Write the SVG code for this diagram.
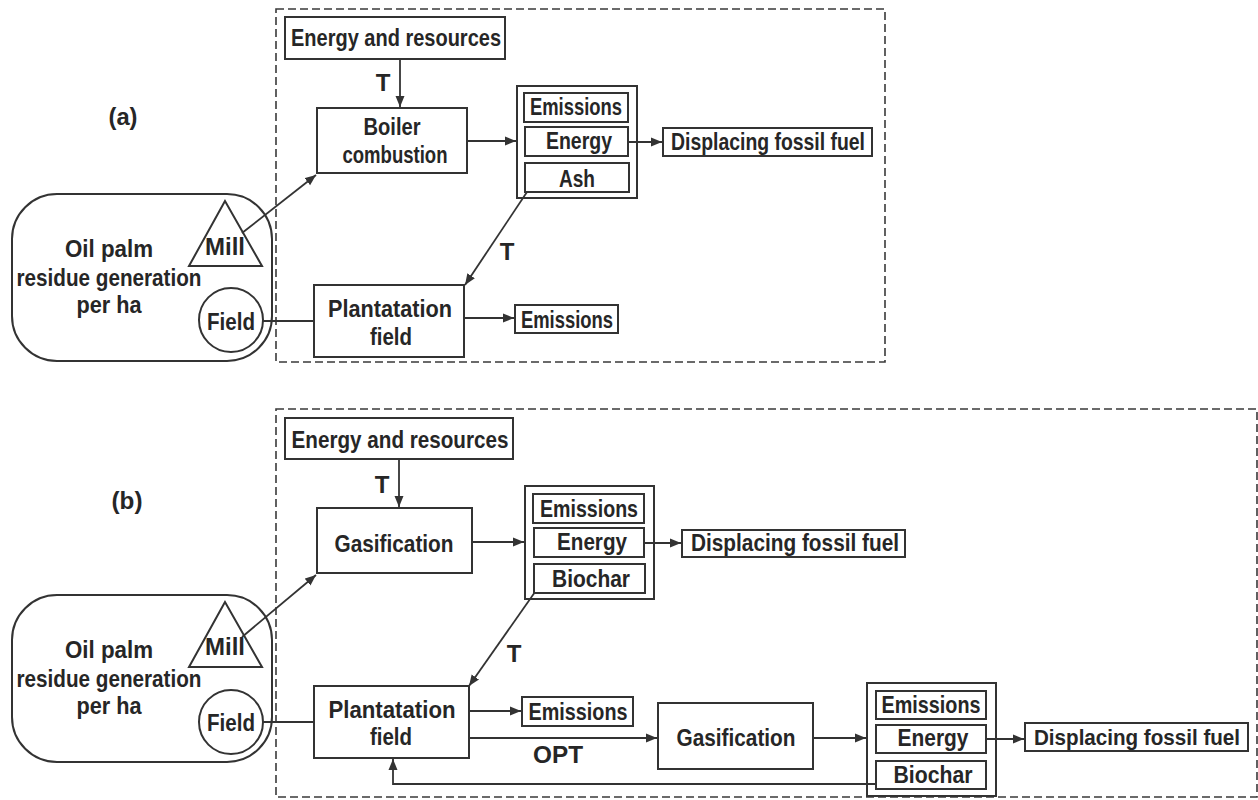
<svg xmlns="http://www.w3.org/2000/svg" width="1258" height="800" viewBox="0 0 1258 800">
<style>
.bg{fill:#ffffff}
.box{fill:none;stroke:#333;stroke-width:2}
.dash{fill:none;stroke:#3a3a3a;stroke-width:1.6;stroke-dasharray:8 4}
.ln{fill:none;stroke:#333;stroke-width:1.8}
.t{font-family:"Liberation Sans",Arial,sans-serif;font-weight:bold;font-size:24px;fill:#262626;text-anchor:middle}
.n{font-size:22px}
</style>
<defs>
<marker id="ah" markerUnits="userSpaceOnUse" markerWidth="12" markerHeight="10" refX="11" refY="5" orient="auto">
<path d="M0,0.5 L11,5 L0,9.5 Z" fill="#333"/>
</marker>
</defs>
<rect class="bg" x="0" y="0" width="1258" height="800"/>

<!-- Panel (a) -->
<g id="panel-a-boundary"><rect class="dash" x="276" y="9" width="609" height="353"/></g>
<text class="t" x="123" y="125" textLength="29" lengthAdjust="spacingAndGlyphs">(a)</text>

<g id="a-source">
<rect class="box" x="12" y="194" width="260" height="167" rx="45"/>
<text class="t" x="109" y="257" textLength="88" lengthAdjust="spacingAndGlyphs">Oil palm</text>
<text class="t" x="109" y="286" textLength="185" lengthAdjust="spacingAndGlyphs">residue generation</text>
<text class="t" x="109" y="313" textLength="65" lengthAdjust="spacingAndGlyphs">per ha</text>
</g>
<g id="a-mill">
<polygon class="box" points="225,201 189,266 262,266"/>
<text class="t" x="225" y="255" textLength="40" lengthAdjust="spacingAndGlyphs">Mill</text>
</g>
<g id="a-field">
<circle class="box" cx="231" cy="320" r="32"/>
<text class="t" x="231" y="330" textLength="48" lengthAdjust="spacingAndGlyphs">Field</text>
</g>
<g id="a-energy-resources">
<rect class="box" x="285" y="17" width="220" height="42"/>
<text class="t" x="396" y="46" textLength="210" lengthAdjust="spacingAndGlyphs">Energy and resources</text>
</g>
<g id="a-boiler">
<rect class="box" x="317" y="108" width="150" height="65"/>
<text class="t" x="392" y="135" textLength="57" lengthAdjust="spacingAndGlyphs">Boiler</text>
<text class="t" x="395" y="163" textLength="105" lengthAdjust="spacingAndGlyphs">combustion</text>
</g>
<g id="a-outputs">
<rect class="box" x="517" y="86" width="120" height="112"/>
<rect class="box" x="524" y="93" width="104" height="29"/>
<text class="t" x="576" y="115" textLength="92" lengthAdjust="spacingAndGlyphs">Emissions</text>
<rect class="box" x="525" y="127" width="103" height="29"/>
<text class="t" x="579" y="149" textLength="66" lengthAdjust="spacingAndGlyphs">Energy</text>
<rect class="box" x="525" y="163" width="104" height="29"/>
<text class="t" x="577" y="187" textLength="36" lengthAdjust="spacingAndGlyphs">Ash</text>
</g>
<g id="a-displacing">
<rect class="box" x="663" y="128" width="209" height="28"/>
<text class="t" x="768" y="150" textLength="194" lengthAdjust="spacingAndGlyphs">Displacing fossil fuel</text>
</g>
<g id="a-plantation">
<rect class="box" x="314" y="285" width="150" height="72"/>
<text class="t" x="390" y="317" textLength="124" lengthAdjust="spacingAndGlyphs">Plantatation</text>
<text class="t" x="391" y="345" textLength="42" lengthAdjust="spacingAndGlyphs">field</text>
</g>
<g id="a-emissions2">
<rect class="box" x="515" y="305" width="103" height="28"/>
<text class="t" x="567" y="328" textLength="92" lengthAdjust="spacingAndGlyphs">Emissions</text>
</g>

<g id="a-connectors">
<line class="ln" x1="400" y1="59" x2="400" y2="107" marker-end="url(#ah)"/>
<text class="t" x="383" y="91">T</text>
<line class="ln" x1="467" y1="141" x2="516" y2="141" marker-end="url(#ah)"/>
<line class="ln" x1="628" y1="142" x2="662" y2="142" marker-end="url(#ah)"/>
<line class="ln" x1="242" y1="233" x2="316" y2="175" marker-end="url(#ah)"/>
<line class="ln" x1="527" y1="192" x2="465" y2="285" marker-end="url(#ah)"/>
<text class="t" x="507" y="260">T</text>
<line class="ln" x1="263" y1="321" x2="314" y2="321"/>
<line class="ln" x1="464" y1="318" x2="514" y2="318" marker-end="url(#ah)"/>
</g>

<!-- Panel (b) -->
<g id="panel-b-boundary"><rect class="dash" x="276" y="409" width="981" height="388"/></g>
<text class="t" x="127" y="509" textLength="31" lengthAdjust="spacingAndGlyphs">(b)</text>

<g id="b-source">
<rect class="box" x="12" y="595" width="260" height="167" rx="45"/>
<text class="t" x="109" y="658" textLength="88" lengthAdjust="spacingAndGlyphs">Oil palm</text>
<text class="t" x="109" y="687" textLength="185" lengthAdjust="spacingAndGlyphs">residue generation</text>
<text class="t" x="109" y="714" textLength="65" lengthAdjust="spacingAndGlyphs">per ha</text>
</g>
<g id="b-mill">
<polygon class="box" points="225,602 189,667 262,667"/>
<text class="t" x="225" y="655" textLength="40" lengthAdjust="spacingAndGlyphs">Mill</text>
</g>
<g id="b-field">
<circle class="box" cx="231" cy="722" r="32"/>
<text class="t" x="231" y="731" textLength="48" lengthAdjust="spacingAndGlyphs">Field</text>
</g>
<g id="b-energy-resources">
<rect class="box" x="285" y="418" width="228" height="41"/>
<text class="t" x="400" y="448" textLength="217" lengthAdjust="spacingAndGlyphs">Energy and resources</text>
</g>
<g id="b-gasification">
<rect class="box" x="317" y="508" width="155" height="65"/>
<text class="t" x="394" y="552" textLength="119" lengthAdjust="spacingAndGlyphs">Gasification</text>
</g>
<g id="b-outputs">
<rect class="box" x="525" y="486" width="129" height="113"/>
<rect class="box" x="533" y="494" width="111" height="29"/>
<text class="t" x="589" y="517" textLength="98" lengthAdjust="spacingAndGlyphs">Emissions</text>
<rect class="box" x="534" y="528" width="110" height="29"/>
<text class="t" x="592" y="550" textLength="70" lengthAdjust="spacingAndGlyphs">Energy</text>
<rect class="box" x="534" y="564" width="111" height="29"/>
<text class="t" x="591" y="587" textLength="78" lengthAdjust="spacingAndGlyphs">Biochar</text>
</g>
<g id="b-displacing">
<rect class="box" x="682" y="530" width="223" height="27"/>
<text class="t" x="795" y="551" textLength="208" lengthAdjust="spacingAndGlyphs">Displacing fossil fuel</text>
</g>
<g id="b-plantation">
<rect class="box" x="314" y="686" width="155" height="72"/>
<text class="t" x="392" y="718" textLength="127" lengthAdjust="spacingAndGlyphs">Plantatation</text>
<text class="t" x="391" y="745" textLength="42" lengthAdjust="spacingAndGlyphs">field</text>
</g>
<g id="b-emissions2">
<rect class="box" x="522" y="697" width="111" height="29"/>
<text class="t" x="578" y="720" textLength="99" lengthAdjust="spacingAndGlyphs">Emissions</text>
</g>
<g id="b-gasification2">
<rect class="box" x="658" y="703" width="155" height="66"/>
<text class="t" x="736" y="746" textLength="119" lengthAdjust="spacingAndGlyphs">Gasification</text>
</g>
<g id="b-outputs2">
<rect class="box" x="867" y="683" width="129" height="113"/>
<rect class="box" x="876" y="691" width="110" height="28"/>
<text class="t" x="931" y="713" textLength="99" lengthAdjust="spacingAndGlyphs">Emissions</text>
<rect class="box" x="876" y="725" width="110" height="28"/>
<text class="t" x="933" y="746" textLength="71" lengthAdjust="spacingAndGlyphs">Energy</text>
<rect class="box" x="876" y="761" width="110" height="28"/>
<text class="t" x="933" y="783" textLength="79" lengthAdjust="spacingAndGlyphs">Biochar</text>
</g>
<g id="b-displacing2">
<rect class="box" x="1025" y="723" width="223" height="28"/>
<text class="t n" x="1137" y="745" textLength="206" lengthAdjust="spacingAndGlyphs">Displacing fossil fuel</text>
</g>

<g id="b-connectors">
<line class="ln" x1="399" y1="459" x2="399" y2="507" marker-end="url(#ah)"/>
<text class="t" x="382" y="493">T</text>
<line class="ln" x1="472" y1="542" x2="524" y2="542" marker-end="url(#ah)"/>
<line class="ln" x1="644" y1="543" x2="681" y2="543" marker-end="url(#ah)"/>
<line class="ln" x1="242" y1="637" x2="316" y2="575" marker-end="url(#ah)"/>
<line class="ln" x1="535" y1="592" x2="469" y2="686" marker-end="url(#ah)"/>
<text class="t" x="514" y="662">T</text>
<line class="ln" x1="263" y1="722" x2="314" y2="722"/>
<line class="ln" x1="469" y1="711" x2="521" y2="711" marker-end="url(#ah)"/>
<line class="ln" x1="469" y1="738" x2="657" y2="738" marker-end="url(#ah)"/>
<text class="t" x="558" y="763" textLength="50" lengthAdjust="spacingAndGlyphs">OPT</text>
<line class="ln" x1="813" y1="738" x2="866" y2="738" marker-end="url(#ah)"/>
<line class="ln" x1="986" y1="739" x2="1024" y2="739" marker-end="url(#ah)"/>
<polyline class="ln" points="876,784 393,784 393,759" marker-end="url(#ah)"/>
</g>
</svg>
